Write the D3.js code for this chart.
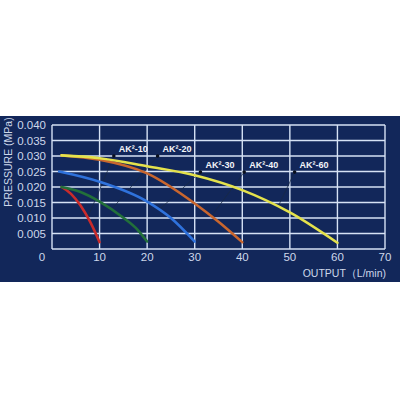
<!DOCTYPE html>
<html>
<head>
<meta charset="utf-8">
<script src="https://cdn.jsdelivr.net/npm/d3@7"></script>
<style>
  body { margin: 0; background: #fff; }
  svg { display: block; }
</style>
</head>
<body>
<script>
// pump models and their curves (output L/min, pressure MPa)
var models = ["AK²-10", "AK²-20", "AK²-30", "AK²-40", "AK²-60"];
var ak10 = [[2, 0.0200], [4, 0.0178], [6, 0.0140], [8, 0.0088], [10, 0.0022]];
var ak20 = [[2, 0.0200], [6, 0.0184], [10, 0.0153], [15, 0.0101], [18, 0.0062], [20, 0.0024]];
var ak30 = [[1.5, 0.0250], [10, 0.0217], [20, 0.0153], [25, 0.0100], [30, 0.0024]];
var ak40 = [[2, 0.0302], [10, 0.0288], [20, 0.0244], [30, 0.0147], [35, 0.0088], [40, 0.0022]];
var ak60 = [[2, 0.0302], [10, 0.0293], [20, 0.0267], [30, 0.0238], [40, 0.0190], [50, 0.0118], [60, 0.0020]];
var seriesColors = ["#c92b2b", "#22703a", "#2f72dc", "#c9662e", "#e4e24c"];

var xTicks = [0, 10, 20, 30, 40, 50, 60, 70];
var yTicks = [0.005, 0.010, 0.015, 0.020, 0.025, 0.030, 0.035, 0.040];

// label anchor dot (data coords) and x where the leader meets its curve
var labelAt = [[13.0, 0.0300], [22.2, 0.0300], [31.2, 0.0248], [40.4, 0.0248], [51.0, 0.0248]];
var leaderTo = [7.5, 12.5, 22.5, 33.5, 47.5];

var width = 400, height = 400;
var svg = d3.select("body").append("svg")
    .attr("width", width).attr("height", height);

svg.append("rect").attr("x", 0).attr("y", 116).attr("width", width).attr("height", 166)
    .attr("fill", "#12275a");

var x = d3.scaleLinear().domain([0, 70]).range([52, 385]);
var y = d3.scaleLinear().domain([0, 0.040]).range([249, 125]);

var grid = svg.append("g");
grid.selectAll(".vg").data(xTicks).enter().append("line")
    .attr("x1", function(d) { return x(d); }).attr("x2", function(d) { return x(d); })
    .attr("y1", y(0)).attr("y2", y(0.040))
    .attr("stroke", "#d6e2f5").attr("stroke-width", 1.4);
grid.selectAll(".hg").data([0].concat(yTicks)).enter().append("line")
    .attr("x1", x(0)).attr("x2", x(70))
    .attr("y1", function(d) { return y(d); }).attr("y2", function(d) { return y(d); })
    .attr("stroke", "#d6e2f5").attr("stroke-width", 1.4);

var tickColor = "#cdd7ea";
svg.selectAll(".yl").data(yTicks).enter().append("text")
    .attr("x", 46).attr("y", function(d) { return y(d) + 4; })
    .attr("text-anchor", "end")
    .attr("font-family", "Liberation Sans, Arial, sans-serif").attr("font-size", 11.5)
    .attr("fill", tickColor)
    .text(function(d) { return d3.format(".3f")(d); });

svg.selectAll(".xl").data(xTicks).enter().append("text")
    .attr("x", function(d) { return d == 0 ? 42 : x(d); }).attr("y", 261)
    .attr("text-anchor", "middle")
    .attr("font-family", "Liberation Sans, Arial, sans-serif").attr("font-size", 11.5)
    .attr("fill", tickColor)
    .text(function(d) { return d; });

svg.append("text")
    .attr("transform", "translate(12,162) rotate(-90)")
    .attr("text-anchor", "middle")
    .attr("font-family", "Liberation Sans, Arial, sans-serif").attr("font-size", 10.5)
    .attr("fill", tickColor)
    .text("PRESSURE (MPa)");

svg.append("text")
    .attr("x", 386).attr("y", 277)
    .attr("text-anchor", "end")
    .attr("font-family", "Liberation Sans, Arial, sans-serif").attr("font-size", 10.5)
    .attr("fill", tickColor)
    .text("OUTPUT（L/min)");

var allSeries = [ak10, ak20, ak30, ak40, ak60];
var line = d3.line()
    .x(function(d) { return x(d[0]); })
    .y(function(d) { return y(d[1]); })
    .curve(d3.curveMonotoneX);

function valueAt(s, xv) {
  for (var i = 0; i < s.length - 1; i++) {
    if (xv >= s[i][0] && xv <= s[i + 1][0]) {
      var t = (xv - s[i][0]) / (s[i + 1][0] - s[i][0]);
      return s[i][1] + t * (s[i + 1][1] - s[i][1]);
    }
  }
  return s[s.length - 1][1];
}

// leaders first so curves sit on top
var leaders = svg.append("g");
allSeries.forEach(function(s, i) {
  var a = labelAt[i];
  var tx = leaderTo[i];
  leaders.append("line")
      .attr("x1", x(a[0])).attr("y1", y(a[1]))
      .attr("x2", x(tx)).attr("y2", y(valueAt(s, tx)))
      .attr("stroke", "#1a2a45").attr("stroke-width", 0.9).attr("opacity", 0.8);
  leaders.append("circle")
      .attr("cx", x(a[0])).attr("cy", y(a[1])).attr("r", 1.8)
      .attr("fill", "#0a0f1c");
});

svg.selectAll(".curve").data(allSeries).enter().append("path")
    .attr("d", line)
    .attr("fill", "none")
    .attr("stroke", function(d, i) { return seriesColors[i]; })
    .attr("stroke-width", 2.6)
    .attr("stroke-linecap", "round");

svg.selectAll(".lab").data(models).enter().append("text")
    .attr("x", function(d, i) { return x(labelAt[i][0]) + 5; })
    .attr("y", function(d, i) { return y(labelAt[i][1]) - 4; })
    .attr("font-family", "Liberation Sans, Arial, sans-serif").attr("font-size", 9)
    .attr("font-weight", "bold")
    .attr("fill", "#f2f4f8")
    .text(function(d) { return d; });
</script>
</body>
</html>
